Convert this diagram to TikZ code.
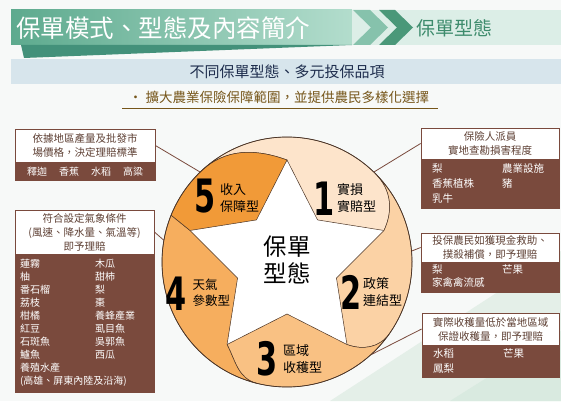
\documentclass[tikz,border=0pt]{standalone}
\usepackage{fontspec}
\usepackage{graphicx}
\usetikzlibrary{positioning}
\setmainfont{Noto Sans CJK TC}
\newfontfamily\numfont{DejaVu Sans}

\definecolor{pagebg}{HTML}{F7F9F8}
\definecolor{bgleaf}{HTML}{E4EFE8}
\definecolor{bgleafdark}{HTML}{D9EAE0}
\definecolor{bandgreen}{HTML}{5DAA8E}
\definecolor{bandlight}{HTML}{B3DDCD}
\definecolor{bandmint}{HTML}{DCEEE7}
\definecolor{stripe}{HTML}{43917A}
\definecolor{chevlight}{HTML}{86C2AC}
\definecolor{chevdark}{HTML}{4A9879}
\definecolor{titlegreen}{HTML}{3D8B6C}
\definecolor{subband}{HTML}{D7E5EC}
\definecolor{subnavy}{HTML}{1E2D4D}
\definecolor{bulletolive}{HTML}{76561A}
\definecolor{boxbrown}{HTML}{7A4A3D}
\definecolor{headtxt}{HTML}{5E4034}
\definecolor{ringline}{HTML}{4B3527}
\definecolor{seg1}{HTML}{FDE4CB}
\definecolor{seg2}{HTML}{FBD2A5}
\definecolor{seg3}{HTML}{F9C183}
\definecolor{seg4}{HTML}{F6AE5E}
\definecolor{seg5}{HTML}{F19A38}

\newcommand{\bignum}[1]{\scalebox{0.66}[1]{\numfont\bfseries #1}}

\begin{document}
\begin{tikzpicture}[
    x=1pt, y=1pt, node distance=0pt,
    notehead/.style={rectangle, draw=boxbrown, line width=0.8pt, fill=white, text=headtxt, font=\fontsize{10.5}{14}\selectfont, align=center, inner sep=0pt},
    itembox/.style={rectangle, draw=boxbrown, line width=0.8pt, fill=boxbrown, text=white, font=\fontsize{10}{13}\selectfont, align=left, inner ysep=0pt},
    link/.style={draw=boxbrown, line width=0.8pt},
    seg/.style={draw=ringline, line width=0.5pt},
    digit/.style={font=\fontsize{46}{46}\selectfont, inner sep=0pt},
    typelbl/.style={font=\fontsize{13}{16.5}\selectfont, align=left, anchor=west, inner sep=0pt}
]
\useasboundingbox (0,0) rectangle (561,401);
\fill[pagebg] (0,0) rectangle (561,401);
\fill[bgleaf] (330,0) -- (561,0) -- (561,150) -- cycle;
\fill[bgleafdark] (450,0) -- (561,0) -- (561,70) -- cycle;

\shade[left color=bandgreen, right color=bandlight] (11,356) rectangle (352,391);
\fill[bandmint] (352,356) rectangle (561,391);
\fill[stripe] (21,356) -- (352,356) .. controls (250,352) and (100,346) .. (24,343) -- cycle;
\fill[chevlight] (353,391) -- (370,391) -- (388,373.5) -- (370,356) -- (353,356) -- (371,373.5) -- cycle;
\fill[chevdark] (379,391) -- (395,391) -- (413,373.5) -- (395,356) -- (379,356) -- (397,373.5) -- cycle;
\node[anchor=west, inner sep=0pt, text=white, font=\fontsize{24.5}{24.5}\selectfont] (title) at (16,373) {保單模式、型態及內容簡介};
\node[anchor=west, inner sep=0pt, text=titlegreen, font=\fontsize{19}{19}\selectfont] (section) at (416,373) {保單型態};

\fill[subband] (11,317) rectangle (561,342);
\node[text=subnavy, font=\fontsize{15}{15}\selectfont] (slogan) at (287,329.5) {不同保單型態、多元投保品項};
\node[text=bulletolive, font=\fontsize{13.5}{13.5}\selectfont] (goal) at (279,304) {• 擴大農業保險保障範圍，並提供農民多樣化選擇};
\draw[bulletolive, line width=0.9pt] (122,293) -- (438,293);

\begin{scope}[shift={(287,139)}]
\coordinate (O) at (0,0);
\foreach \k/\a in {1/90, 2/18, 3/-54, 4/-126, 5/162}
    \coordinate (P\k) at (\a:102);
\foreach \k/\a in {1/54, 2/-18, 3/-90, 4/-162, 5/126}
    \coordinate (I\k) at (\a:52);
\coordinate (C51) at (134:125);
\coordinate (C12) at (45:125);
\coordinate (C23) at (-35:125);
\coordinate (C34) at (-104:125);
\coordinate (C45) at (158:125);
\coordinate (K2) at (170:125);
\coordinate (K3) at (46:125);
\coordinate (K4) at (5:125);
\coordinate (K5) at (-48:125);
\end{scope}

\node[notehead, minimum width=140pt, minimum height=33pt] (lb1) at (85,255.5) {依據地區產量及批發市\\場價格，決定理賠標準};
\node[itembox, minimum width=140pt, minimum height=18pt, align=center, below=of lb1] (lb1i) {釋迦\hspace{12pt}香蕉\hspace{12pt}水稻\hspace{12pt}高粱};

\node[notehead, minimum width=139pt, minimum height=44pt] (lb2) at (84.5,169) {符合設定氣象條件\\(風速、降水量、氣溫等)\\即予理賠};
\node[itembox, minimum width=139pt, minimum height=138pt, text width=129pt, inner xsep=5pt, below=of lb2] (lb2i) {\begin{tabular}{@{}p{63pt}l@{}}
蓮霧 & 木瓜\\
柚 & 甜柿\\
番石榴 & 梨\\
荔枝 & 棗\\
柑橘 & 養蜂產業\\
紅豆 & 虱目魚\\
石斑魚 & 吳郭魚\\
鱸魚 & 西瓜\\
\multicolumn{2}{@{}l@{}}{養殖水產}\\
\multicolumn{2}{@{}l@{}}{(高雄、屏東內陸及沿海)}
\end{tabular}};

\node[notehead, minimum width=138pt, minimum height=31pt] (rb1) at (490,257.5) {保險人派員\\實地查勘損害程度};
\node[itembox, minimum width=138pt, minimum height=49pt, text width=116pt, inner xsep=11pt, font=\fontsize{10.5}{15}\selectfont, below=of rb1] (rb1i) {\begin{tabular}{@{}p{58pt}l@{}}
梨 & 農業設施\\
香蕉植株 & 豬\\
乳牛 &
\end{tabular}};

\node[notehead, minimum width=138pt, minimum height=29pt] (rb2) at (490,153.5) {投保農民如獲現金救助、\\撲殺補償，即予理賠};
\node[itembox, minimum width=138pt, minimum height=30pt, text width=116pt, inner xsep=11pt, font=\fontsize{10.5}{13}\selectfont, below=of rb2] (rb2i) {\begin{tabular}{@{}p{58pt}l@{}}
梨 & 芒果\\
家禽禽流感 &
\end{tabular}};

\node[notehead, minimum width=137pt, minimum height=32pt] (rb3) at (490.5,72) {實際收穫量低於當地區域\\保證收穫量，即予理賠};
\node[itembox, minimum width=137pt, minimum height=32pt, text width=115pt, inner xsep=11pt, font=\fontsize{10.5}{15}\selectfont, below=of rb3] (rb3i) {\begin{tabular}{@{}p{58pt}l@{}}
水稻 & 芒果\\
鳳梨 &
\end{tabular}};

\draw[link] (lb1.east) -- (C51);
\draw[link] (lb2.east) -- (K2);
\draw[link] (rb1.west) -- (K3);
\draw[link] (rb2.west) -- (K4);
\draw[link] (rb3.west) -- (K5);

\fill[white] (O) circle[radius=125pt];
\filldraw[seg, fill=seg1] (P1) -- (I1) -- (P2) to[out=65, in=-45] (C12) arc[start angle=45, end angle=134, radius=125pt] to[out=44, in=160] (P1) -- cycle;
\filldraw[seg, fill=seg2] (P2) -- (I2) -- (P3) to[out=-20, in=-125] (C23) arc[start angle=-35, end angle=45, radius=125pt] to[out=-45, in=65] (P2) -- cycle;
\filldraw[seg, fill=seg3] (P3) -- (I3) -- (P4) to[out=-63, in=166] (C34) arc[start angle=-104, end angle=-35, radius=125pt] to[out=-125, in=-20] (P3) -- cycle;
\filldraw[seg, fill=seg4] (P4) -- (I4) -- (P5) -- (C45) arc[start angle=158, end angle=256, radius=125pt] to[out=166, in=-63] (P4) -- cycle;
\filldraw[seg, fill=seg5] (P5) -- (I5) -- (P1) to[out=160, in=44] (C51) arc[start angle=134, end angle=158, radius=125pt] -- (P5) -- cycle;
\draw[seg, line width=0.7pt] (O) circle[radius=125pt];

\node[font=\fontsize{23.5}{27}\selectfont, align=center, inner sep=0pt] (core) at (287,141) {保單\\型態};

\node[digit] (n1) at (324,202.5) {\bignum{1}};
\node[typelbl] (t1) at (337,203) {實損\\實賠型};
\node[digit] (n2) at (351,108.5) {\bignum{2}};
\node[typelbl] (t2) at (363,109) {政策\\連結型};
\node[digit] (n3) at (267,42) {\bignum{3}};
\node[typelbl] (t3) at (283,42) {區域\\收穫型};
\node[digit] (n4) at (176,107) {\bignum{4}};
\node[typelbl, font=\fontsize{12.5}{16}\selectfont] (t4) at (192.5,108.5) {天氣\\參數型};
\node[digit] (n5) at (205,204.5) {\bignum{5}};
\node[typelbl] (t5) at (220,203) {收入\\保障型};
\end{tikzpicture}
\end{document}
